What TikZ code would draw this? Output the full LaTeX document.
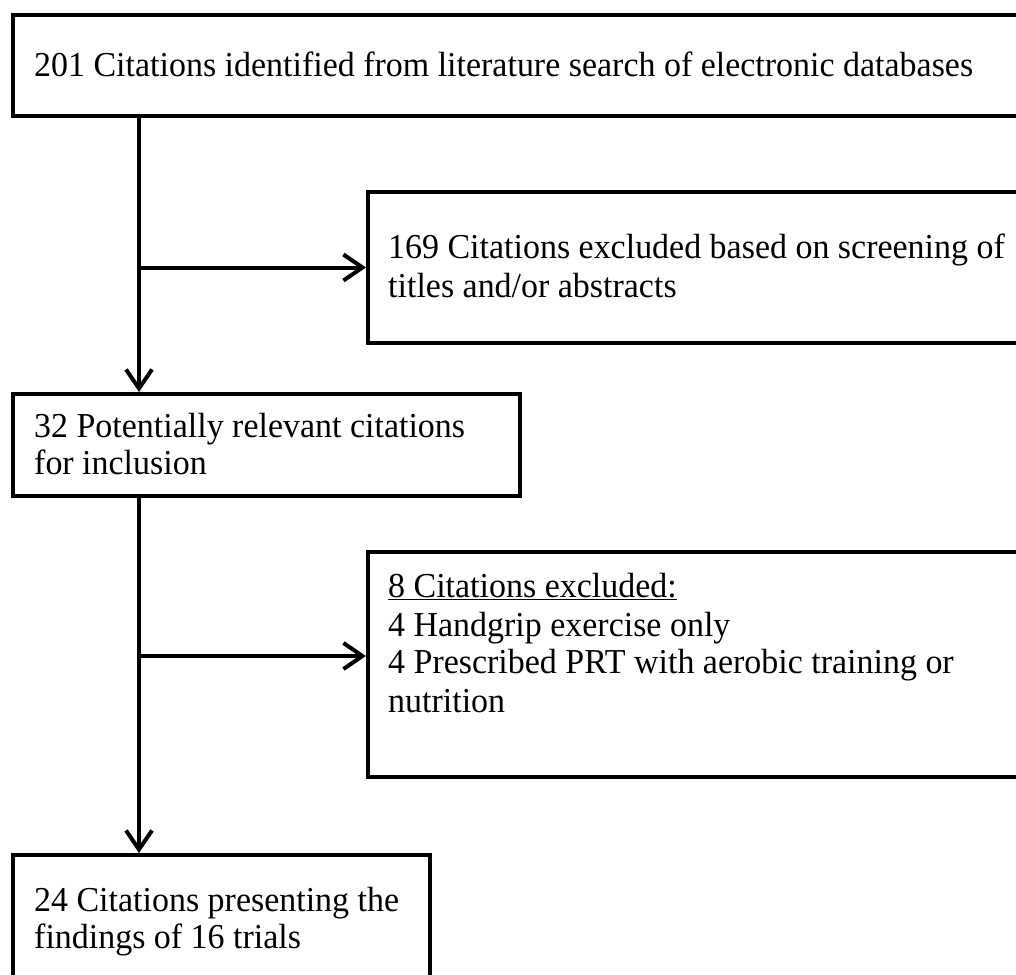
\documentclass[tikz,border=0pt]{standalone}
\usepackage{fontspec}
\setmainfont{Liberation Serif}[FakeStretch=0.97]
\usetikzlibrary{arrows.meta}
\tikzset{
  box/.style={draw=black, line width=4pt, fill=none, inner sep=0pt, anchor=north west},
  txt/.style={anchor=base west, inner sep=0pt, font=\fontsize{35}{38}\selectfont},
  flow/.style={draw=black, line width=4pt},
  arr/.style={flow, -{Straight Barb[length=19pt, width=26pt, line width=4pt]}}
}
\begin{document}
\begin{tikzpicture}[x=1pt, y=-1pt]
\useasboundingbox (0,0) rectangle (1016,974);
\fill[white] (0,0) rectangle (1016,974);
\clip (0,0) rectangle (1016,974);
% boxes
\node[box, minimum width=1040pt, minimum height=101pt] (b1) at (11,13) {};
\node[box, minimum width=700pt, minimum height=151pt] (b2) at (366,190) {};
\node[box, minimum width=507pt, minimum height=102pt] (b3) at (11,392) {};
\node[box, minimum width=700pt, minimum height=225pt] (b4) at (366,550) {};
\node[box, minimum width=417pt, minimum height=160pt] (b5) at (11,853) {};
% texts
\node[txt] (t1) at (34,76) {201 Citations identified from literature search of electronic databases};
\node[txt] (t2a) at (388,258) {169 Citations excluded based on screening of};
\node[txt] (t2b) at (388,297) {titles and/or abstracts};
\node[txt] (t3a) at (34,437) {32 Potentially relevant citations};
\node[txt] (t3b) at (34,474) {for inclusion};
\node[txt] (t4a) at (388,597) {\underline{8 Citations excluded:}};
\node[txt] (t4b) at (388,636) {4 Handgrip exercise only};
\node[txt] (t4c) at (388,673) {4 Prescribed PRT with aerobic training or};
\node[txt] (t4d) at (388,712) {nutrition};
\node[txt] (t5a) at (34,911) {24 Citations presenting the};
\node[txt] (t5b) at (34,948) {findings of 16 trials};
% connectors
\coordinate (s1) at ([xshift=128pt]b1.south west);
\coordinate (j1) at (s1 |- b2.west);
\coordinate (s3) at ([xshift=128pt]b3.south west);
\coordinate (j3) at (s3 |- 0,656);
\draw[arr] (s1) -- ([xshift=128pt]b3.north west);
\draw[arr] (j1) -- (j1 -| b2.west);
\draw[arr] (s3) -- ([xshift=128pt]b5.north west);
\draw[arr] (j3) -- (j3 -| b4.west);
\end{tikzpicture}
\end{document}
